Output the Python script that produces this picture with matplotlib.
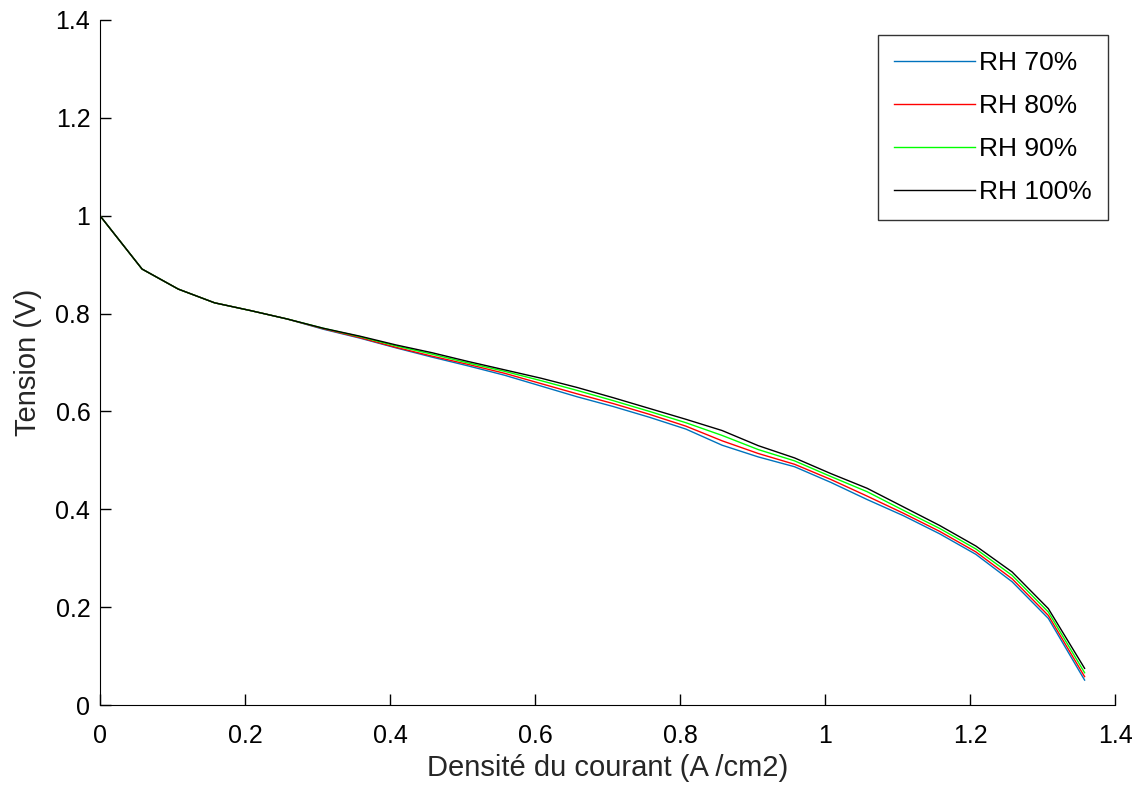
import matplotlib
matplotlib.use("Agg")
import matplotlib.pyplot as plt

plt.rcParams['font.family'] = ['Liberation Sans', 'DejaVu Sans']

current_density = [0.0, 0.058, 0.108, 0.158, 0.208, 0.258, 0.308, 0.358, 0.408, 0.458,
                   0.508, 0.558, 0.608, 0.658, 0.708, 0.758, 0.808, 0.858, 0.908, 0.958,
                   1.008, 1.058, 1.108, 1.158, 1.208, 1.258, 1.308, 1.358]

rh70 = [1.0, 0.891, 0.850, 0.822, 0.806, 0.789, 0.768, 0.750, 0.730, 0.711,
        0.693, 0.674, 0.652, 0.630, 0.610, 0.588, 0.564, 0.531, 0.507, 0.487,
        0.455, 0.420, 0.387, 0.350, 0.308, 0.252, 0.177, 0.051]
rh80 = [1.0, 0.891, 0.850, 0.822, 0.806, 0.789, 0.769, 0.751, 0.731, 0.713,
        0.696, 0.678, 0.657, 0.636, 0.616, 0.594, 0.570, 0.540, 0.514, 0.492,
        0.461, 0.427, 0.392, 0.355, 0.313, 0.258, 0.183, 0.058]
rh90 = [1.0, 0.891, 0.850, 0.822, 0.806, 0.789, 0.770, 0.753, 0.734, 0.717,
        0.699, 0.682, 0.663, 0.643, 0.622, 0.600, 0.577, 0.551, 0.522, 0.499,
        0.467, 0.436, 0.398, 0.361, 0.319, 0.265, 0.190, 0.066]
rh100 = [1.0, 0.891, 0.850, 0.822, 0.806, 0.789, 0.770, 0.754, 0.736, 0.720,
         0.702, 0.685, 0.668, 0.649, 0.628, 0.606, 0.584, 0.561, 0.530, 0.505,
         0.473, 0.443, 0.405, 0.367, 0.325, 0.272, 0.197, 0.075]

labels = ['RH 70%', 'RH 80%', 'RH 90%', 'RH 100%']
colors = ['#0072BD', '#FF0000', '#00FF00', '#000000']

ticks = [0, 0.2, 0.4, 0.6, 0.8, 1, 1.2, 1.4]
tick_labels = ['0', '0.2', '0.4', '0.6', '0.8', '1', '1.2', '1.4']

fig = plt.figure(figsize=(11.48, 7.99), dpi=100)
ax = fig.add_axes([0.0871, 0.1176, 0.8842, 0.8574])

for ys, lab, col in zip([rh70, rh80, rh90, rh100], labels, colors):
    ax.plot(current_density, ys, color=col, lw=1.0, label=lab)

ax.set_xlim(0, 1.4)
ax.set_ylim(0, 1.4)
ax.set_xticks(ticks)
ax.set_xticklabels(tick_labels)
ax.set_yticks(ticks)
ax.set_yticklabels(tick_labels)
ax.spines['top'].set_visible(False)
ax.spines['right'].set_visible(False)
ax.tick_params(direction='in', length=8, width=1, labelsize=18)
ax.tick_params(axis='x', pad=14)
ax.tick_params(axis='y', pad=7)

ax.set_xlabel('Densité du courant (A /cm2)', fontsize=21, labelpad=4, color='#262626')
ax.set_ylabel('Tension (V)', fontsize=21, labelpad=10, color='#262626')

leg = ax.legend(loc='upper right', bbox_to_anchor=(0.993, 0.978), fontsize=19,
                frameon=True, fancybox=False, handlelength=3.1, handletextpad=0.15,
                borderpad=0.6, labelspacing=0.72, borderaxespad=0)
leg.get_frame().set_edgecolor('black')
leg.get_frame().set_linewidth(1.0)

fig.savefig('out.png', dpi=100)
